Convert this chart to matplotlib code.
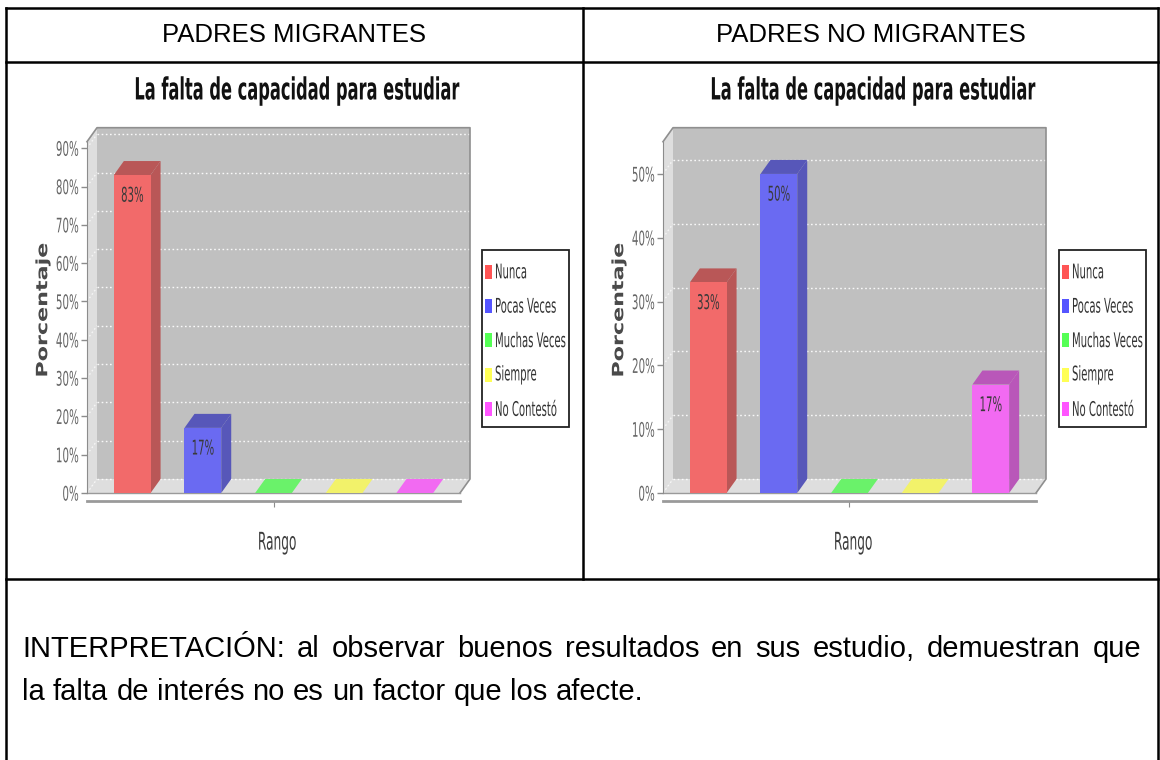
import matplotlib
matplotlib.use("Agg")
import matplotlib.pyplot as plt
from matplotlib.patches import Polygon, Rectangle
from matplotlib.lines import Line2D
from matplotlib.patheffects import AbstractPathEffect
from matplotlib.transforms import Affine2D, IdentityTransform
from matplotlib.colors import to_rgb

# ---------------------------------------------------------------- data
headers = ["PADRES MIGRANTES", "PADRES NO MIGRANTES"]
chart_title = "La falta de capacidad para estudiar"
categories = ["Nunca", "Pocas Veces", "Muchas Veces", "Siempre", "No Contestó"]
pct_migrantes = [83, 17, 0, 0, 0]
pct_no_migrantes = [33, 50, 0, 0, 17]
ticks_migrantes = [0, 10, 20, 30, 40, 50, 60, 70, 80, 90]
ticks_no_migrantes = [0, 10, 20, 30, 40, 50]
series_colors = ["#ff5555", "#5555ff", "#55ff55", "#ffff55", "#ff55ff"]
y_label = "Porcentaje"
x_label = "Rango"
interpretation = [
    "INTERPRETACIÓN: al observar buenos resultados en sus estudio, demuestran que",
    "la falta de interés no es un factor que los afecte.",
]

# ---------------------------------------------------------------- layout
W, H = 1160, 760
DX, DY = 10, 14          # depth of the 3-D effect, pixels
CHART_FONT = "DejaVu Sans"
TABLE_FONT = "Liberation Sans"
TALL = 2.0               # vertical stretch of the narrow chart lettering


class Reshape(AbstractPathEffect):
    """Scale a text's glyphs on screen about an anchor of its ink box."""

    def __init__(self, sx=1.0, sy=1.0, fx=0.5, fy=0.5):
        super().__init__()
        self.sx, self.sy, self.fx, self.fy = sx, sy, fx, fy

    def draw_path(self, renderer, gc, tpath, affine, rgbFace=None):
        ext = affine.transform_path(tpath).get_extents()
        cx = ext.x0 + self.fx * ext.width
        cy = ext.y0 + self.fy * ext.height
        m = Affine2D().translate(-cx, -cy).scale(self.sx, self.sy).translate(cx, cy)
        renderer.draw_path(gc, tpath, affine + m, rgbFace)


def tall(text, factor=TALL, fy=0.5):
    text.set_path_effects([Reshape(sy=factor, fy=fy)])
    return text


def shade(color, k, alpha=0.8, bg=0.75):
    r = to_rgb(color)
    return tuple(alpha * k * c + (1 - alpha) * bg for c in r)


fig = plt.figure(figsize=(W / 100, H / 100), dpi=100)
fig.patch.set_facecolor("white")

# full-page layer in pixel units (y grows downward) for the table
page = fig.add_axes([0, 0, 1, 1])
page.set_xlim(0, W)
page.set_ylim(H, 0)
page.axis("off")

LW = 1.8
L, R, T = 6, 1158, 7.5
MID, HDR, ROW = 583, 61.5, 579
for xs, ys in [([L, R], [T, T]), ([L, R], [HDR, HDR]), ([L, R], [ROW, ROW]),
               ([L, L], [T, H]), ([R, R], [T, H]), ([MID, MID], [T, ROW])]:
    page.plot(xs, ys, color="black", lw=LW, solid_capstyle="projecting")

for txt, cx in zip(headers, [(L + MID) / 2, (MID + R) / 2]):
    page.text(cx, 35, txt, ha="center", va="center", fontsize=18.5,
              family=TABLE_FONT, color="black")

# interpretation paragraph (first line justified)
renderer = fig.canvas.get_renderer()
body_kw = dict(fontsize=21, family=TABLE_FONT, color="black", va="baseline")
probe_a = page.text(0, 300, "a b", **body_kw)
probe_b = page.text(0, 300, "ab", **body_kw)
space = probe_a.get_window_extent(renderer).width - probe_b.get_window_extent(renderer).width
probe_a.remove()
probe_b.remove()

x_left, x_right = 22, 1141
for li, (line, base) in enumerate(zip(interpretation, [657, 700])):
    words = line.split()
    items = [page.text(0, base, w, **body_kw) for w in words]
    widths = [t.get_window_extent(renderer).width for t in items]
    gap = (x_right - x_left - sum(widths)) / (len(words) - 1) if li == 0 else space
    x = x_left
    for t, wd in zip(items, widths):
        t.set_x(x)
        x += wd + gap


def draw_chart(x0, cell_mid, values, ticks, ymax, legend_x):
    x1 = x0 + 373
    y_zero, y_top = 493, 141.7
    ax = fig.add_axes([x0 / W, (H - y_zero) / H, (x1 - x0) / W, (y_zero - y_top) / H])
    ax.set_xlim(-0.64, 4.64)
    ax.set_ylim(0, ymax)
    ax.patch.set_visible(False)
    for s in ("top", "right"):
        ax.spines[s].set_visible(False)
    ax.spines["left"].set_color("#8c8c8c")
    ax.spines["bottom"].set_position(("outward", 6))
    ax.spines["bottom"].set_color("#9a9a9a")
    ax.spines["bottom"].set_linewidth(2)
    ax.set_xticks([2], labels=[""])
    ax.tick_params(axis="x", length=4, color="#8c8c8c")
    ax.set_yticks(ticks, labels=[f"{t}%" for t in ticks])
    ax.tick_params(axis="y", length=4, width=1, color="#8c8c8c", pad=2,
                   labelsize=7.4, labelcolor="#666666")
    for lbl in ax.get_yticklabels():
        lbl.set_family(CHART_FONT)
        tall(lbl, 1.95)

    ax.set_ylabel(y_label, fontsize=16, fontweight="bold", color="#4a4a4a", family=CHART_FONT)
    ax.yaxis.set_label_coords(-44 / 373, 0.521)
    ax.yaxis.label.set_va("center")
    ax.yaxis.label.set_path_effects([Reshape(sx=0.7)])
    ax.set_xlabel(x_label, fontsize=8.75, color="#3c3c3c", family=CHART_FONT)
    ax.xaxis.set_label_coords(0.51, -0.142)
    ax.xaxis.label.set_va("center")
    tall(ax.xaxis.label)

    def D(x, v):
        return ax.transData.transform((x, v))

    (a0, b0), (a1, b1) = ax.transAxes.transform([(0, 0), (1, 1)])

    def poly(pts, fc, z):
        ax.add_patch(Polygon(pts, closed=True, fc=fc, ec="none", lw=0,
                             transform=IdentityTransform(), clip_on=False, zorder=z))

    def seg(xs, ys, z, **kw):
        ax.add_line(Line2D(xs, ys, transform=IdentityTransform(), clip_on=False,
                           zorder=z, **kw))

    # walls and floor
    poly([(a0 + DX, b0 + DY), (a1 + DX, b0 + DY), (a1 + DX, b1 + DY), (a0 + DX, b1 + DY)],
         "#c0c0c0", 0.1)
    poly([(a0, b0), (a0 + DX, b0 + DY), (a0 + DX, b1 + DY), (a0, b1)], "#dedede", 0.2)
    poly([(a0, b0), (a1, b0), (a1 + DX, b0 + DY), (a0 + DX, b0 + DY)], "#dedede", 0.2)

    # gridlines on the back wall and the side wall
    for t in ticks:
        yy = D(0, t)[1]
        seg([a0 + DX, a1 + DX], [yy + DY, yy + DY], 0.3, color="white", lw=1,
            ls=(0, (1.2, 1.8)), alpha=0.9)
        seg([a0, a0 + DX], [yy, yy + DY], 0.3, color="white", lw=1,
            ls=(0, (1.2, 1.8)), alpha=0.7)

    # frame edges
    seg([a0, a0 + DX, a1 + DX, a1 + DX, a1], [b1, b1 + DY, b1 + DY, b0 + DY, b0], 0.4,
        color="#8f8f8f", lw=1.2)
    seg([a0, a1], [b0, b0], 0.4, color="#9a9a9a", lw=1)

    # bars
    w = 0.52
    for i, (v, c) in enumerate(zip(values, series_colors)):
        fr, sd = shade(c, 1.0), shade(c, 0.72)
        ax.bar(i, v, width=w, color=fr, zorder=3, clip_on=False, lw=0)
        (xl, yb), (xr, yt) = D(i - w / 2, 0), D(i + w / 2, v)
        if v > 0:
            poly([(xr, yb), (xr, yt), (xr + DX, yt + DY), (xr + DX, yb + DY)], sd, 2.9)
            poly([(xl, yt), (xr, yt), (xr + DX, yt + DY), (xl + DX, yt + DY)], sd, 2.9)
            lab = ax.annotate(f"{v}%", (i, v), xytext=(0, -8), textcoords="offset points",
                              ha="center", va="top", fontsize=7.3, color="#3a3a3a",
                              family=CHART_FONT, zorder=4)
            tall(lab, TALL, fy=1.0)
        else:
            poly([(xl, yt), (xr, yt), (xr + DX, yt + DY), (xl + DX, yt + DY)], fr, 2.9)

    # title
    ttl = page.text(cell_mid + 3, 91, chart_title, ha="center", va="center", fontsize=11.7,
                    fontweight="bold", family=CHART_FONT, color="#111111")
    tall(ttl, 1.88)

    # legend box
    page.add_patch(Rectangle((legend_x, 250), 87, 177, fc="white", ec="#222222", lw=1.3,
                             zorder=5))
    for k, (name, c) in enumerate(zip(categories, series_colors)):
        yc = 271.7 + k * 34.3
        page.add_patch(Rectangle((legend_x + 3, yc - 7), 7, 14, fc=c, ec="none", zorder=6))
        lt = page.text(legend_x + 13, yc, name, ha="left", va="center", fontsize=7.25,
                       family=CHART_FONT, color="#333333", zorder=6)
        tall(lt)
    return ax


draw_chart(87, (L + MID) / 2, pct_migrantes, ticks_migrantes, 91.7, 482)
draw_chart(663, (MID + R) / 2, pct_no_migrantes, ticks_no_migrantes, 55.05, 1059)

fig.savefig("out.png", dpi=100, facecolor="white")
